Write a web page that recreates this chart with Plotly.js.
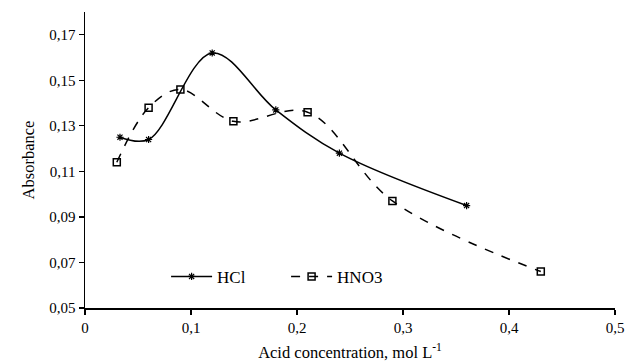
<!DOCTYPE html>
<html>
<head>
<meta charset="utf-8">
<script src="https://cdn.plot.ly/plotly-3.0.1.min.js"></script>
<style>
html,body{margin:0;padding:0;background:#fff;}
#chart{width:628px;height:364px;}
#chart svg text{font-family:"Liberation Serif","Times New Roman",serif !important;}
</style>
</head>
<body>
<div id="chart"></div>
<script>
const hclX = [0.033, 0.06, 0.12, 0.18, 0.24, 0.36];
const hclY = [0.125, 0.124, 0.162, 0.137, 0.118, 0.095];
const hno3X = [0.03, 0.06, 0.09, 0.14, 0.21, 0.29, 0.43];
const hno3Y = [0.114, 0.138, 0.146, 0.132, 0.136, 0.097, 0.066];
const yTicks = [0.05, 0.07, 0.09, 0.11, 0.13, 0.15, 0.17];
const xTicks = [0, 0.1, 0.2, 0.3, 0.4, 0.5];

const FAM = '"Liberation Serif", "Times New Roman", serif';
function f(size) { return {family: FAM, size: size, color: '#000'}; }

const traces = [
  {x: hclX, y: hclY, name: 'HCl', type: 'scatter', mode: 'lines+markers',
   line: {color: '#000', width: 1.5, shape: 'spline', smoothing: 1},
   marker: {symbol: 'asterisk-open', size: 6, color: '#000', line: {color: '#000', width: 1.2}}},
  {x: hno3X, y: hno3Y, name: 'HNO3', type: 'scatter', mode: 'lines+markers',
   line: {color: '#000', width: 1.5, dash: 'dash', shape: 'spline', smoothing: 1},
   marker: {symbol: 'square-open', size: 7, color: '#000', line: {color: '#000', width: 1.5}}}
];

const layout = {
  width: 628, height: 364,
  margin: {l: 85, r: 13, t: 12, b: 56},
  paper_bgcolor: '#fff', plot_bgcolor: '#fff',
  separators: ', ',
  font: f(15),
  showlegend: true,
  legend: {orientation: 'h', x: 0.153, y: 0.105, xanchor: 'left', yanchor: 'middle',
           bgcolor: 'rgba(0,0,0,0)', font: f(17), itemwidth: 41,
           entrywidth: 64, entrywidthmode: 'pixels'},
  xaxis: {range: [0, 0.5], tickvals: xTicks, showgrid: false, zeroline: false,
          showline: true, linecolor: '#000', linewidth: 1.5,
          ticks: 'outside', ticklen: 5, tickcolor: '#000', tickwidth: 1.2,
          tickfont: f(15),
          title: {text: 'Acid concentration, mol L<sup>-1</sup>', font: f(16.5), standoff: 12}},
  yaxis: {range: [0.05, 0.18], tickvals: yTicks, tickformat: '.2f', showgrid: false, zeroline: false,
          showline: true, linecolor: '#000', linewidth: 1.5,
          ticks: 'outside', ticklen: 5, tickcolor: '#000', tickwidth: 1.2,
          tickfont: f(15),
          title: {text: 'Absorbance', font: f(16.5), standoff: 10}}
};

Plotly.newPlot('chart', traces, layout, {displayModeBar: false, staticPlot: true});
</script>
</body>
</html>
